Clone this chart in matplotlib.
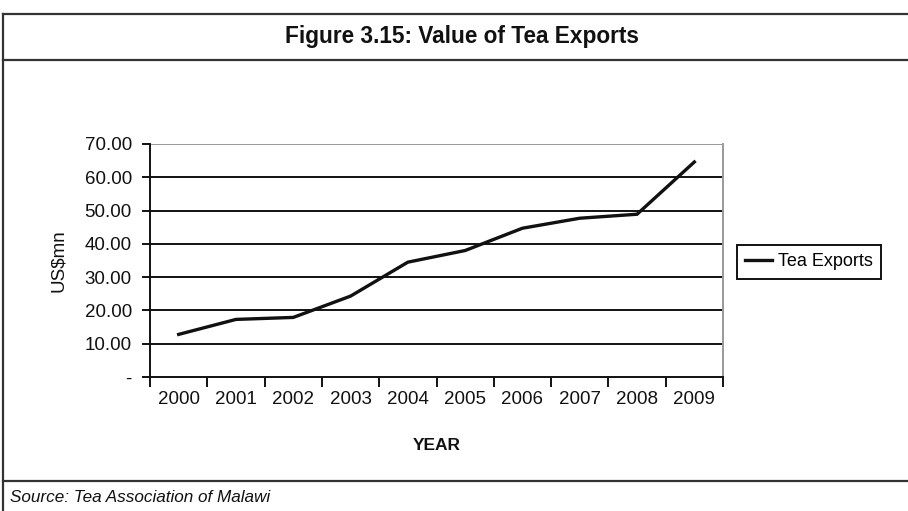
import matplotlib
matplotlib.use("Agg")
import matplotlib.pyplot as plt
from matplotlib.lines import Line2D
from matplotlib.ticker import FixedLocator, FixedFormatter

plt.rcParams['font.family'] = ['Liberation Sans', 'DejaVu Sans']

years = ["2000", "2001", "2002", "2003", "2004", "2005", "2006", "2007", "2008", "2009"]
tea_exports = [12.8, 17.3, 17.9, 24.3, 34.5, 38.0, 44.7, 47.7, 48.9, 64.6]
y_ticks = [0, 10, 20, 30, 40, 50, 60, 70]
y_tick_labels = ["-", "10.00", "20.00", "30.00", "40.00", "50.00", "60.00", "70.00"]

W, H = 908, 511
fig = plt.figure(figsize=(W / 100, H / 100), dpi=100)

def fx(px):
    return px / W

def fy(py):
    return 1 - py / H

# Outer frame with title band and source band
frame_kw = dict(color="#333333", lw=1.6, transform=fig.transFigure)
fig.add_artist(Line2D([fx(3), 1], [fy(14), fy(14)], **frame_kw))
fig.add_artist(Line2D([fx(3), 1], [fy(60), fy(60)], **frame_kw))
fig.add_artist(Line2D([fx(3), 1], [fy(481), fy(481)], **frame_kw))
fig.add_artist(Line2D([fx(3), fx(3)], [fy(14), 0], **frame_kw))

fig.text(fx(462), fy(37), "Figure 3.15: Value of Tea Exports", ha="center", va="center",
         fontsize=16.3, fontweight="bold", color="#111111")
fig.text(fx(10), fy(497), "Source: Tea Association of Malawi", ha="left", va="center",
         fontsize=12.3, fontstyle="italic", color="#111111")

ax = fig.add_axes([fx(150), fy(377), fx(723) - fx(150), fy(144) - fy(377)])

x = list(range(len(years)))
ax.plot(x, tea_exports, color="#111111", lw=2.4, solid_joinstyle="miter",
        label="Tea Exports", zorder=3)

ax.set_xlim(-0.5, len(years) - 0.5)
ax.set_ylim(0, 70)

# Horizontal gridlines
for v in y_ticks[1:-1]:
    ax.axhline(v, color="#111111", lw=1.4, zorder=1)
ax.axhline(70, color="#999999", lw=1.4, zorder=1)

ax.spines["top"].set_visible(False)
ax.spines["right"].set_color("#999999")
ax.spines["right"].set_linewidth(1.4)
ax.spines["left"].set_color("#111111")
ax.spines["left"].set_linewidth(1.4)
ax.spines["bottom"].set_color("#111111")
ax.spines["bottom"].set_linewidth(1.4)

ax.yaxis.set_major_locator(FixedLocator(y_ticks))
ax.yaxis.set_major_formatter(FixedFormatter(y_tick_labels))
ax.tick_params(axis="y", direction="out", length=6, width=1.4, color="#111111",
               labelsize=13.5, pad=7, labelcolor="#111111")

ax.set_xticks(x)
ax.set_xticklabels(years)
ax.set_xticks([i - 0.5 for i in range(len(years) + 1)], minor=True)
ax.tick_params(axis="x", which="major", length=0, labelsize=13.5, pad=10, labelcolor="#111111")
ax.tick_params(axis="x", which="minor", direction="out", length=7, width=1.4, color="#111111")

ax.set_xlabel("YEAR", fontsize=12.5, fontweight="bold", labelpad=22, color="#111111")
ax.set_ylabel("US$mn", fontsize=13.5, labelpad=13, color="#111111")

fig.legend(handles=ax.get_lines()[:1], labels=["Tea Exports"], loc="center left",
           bbox_to_anchor=(fx(737), fy(262)), frameon=True, fancybox=False,
           edgecolor="#111111", fontsize=13, handlelength=1.5, handletextpad=0.3,
           borderpad=0.45, borderaxespad=0, framealpha=1)
fig.legends[0].get_frame().set_linewidth(1.4)

fig.savefig("out.png", dpi=100, facecolor="white")
